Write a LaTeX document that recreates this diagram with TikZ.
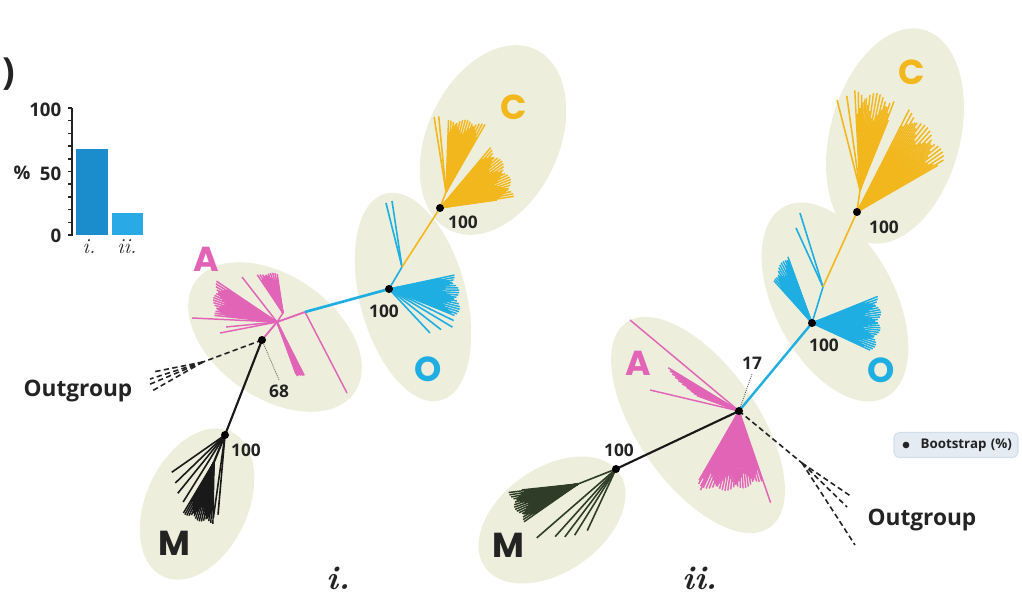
\documentclass[tikz,border=0pt]{standalone}
\usepackage{fontspec}
\newfontfamily\osans{Open Sans}
\newfontfamily\popf{Poppins}
\usetikzlibrary{calc}
\definecolor{ellfill}{RGB}{237,239,220}
\definecolor{pinkc}{RGB}{226,100,183}
\definecolor{cyanc}{RGB}{30,174,226}
\definecolor{goldc}{RGB}{243,183,30}
\definecolor{mgreen}{RGB}{46,60,40}
\definecolor{bari}{RGB}{27,141,204}
\definecolor{barii}{RGB}{41,170,230}
\definecolor{legfill}{RGB}{228,235,243}
\definecolor{legdraw}{RGB}{212,222,234}
\definecolor{txt}{RGB}{35,35,35}
\newcommand{\fanlines}[8]{%
  \foreach \fanang [count=\fanidx] in {#3,#4,...,#5}{%
    \pgfmathsetmacro\fanlen{#6+(#7-#6)*(\fanang-(#3))/((#5)-(#3))+#8*(abs(sin(\fanidx*83.7))-0.5)}%
    \draw[#1] (#2) -- ++(\fanang:\fanlen);}}
\begin{document}
\begin{tikzpicture}[x=0.75pt,y=-0.75pt,
  ell/.style={fill=ellfill},
  pk/.style={draw=pinkc,line width=1.1pt},
  pkf/.style={draw=pinkc,line width=1.1pt},
  cy/.style={draw=cyanc,line width=1.2pt},
  cyf/.style={draw=cyanc,line width=1.1pt},
  gd/.style={draw=goldc,line width=1.2pt},
  gdf/.style={draw=goldc,line width=1.1pt},
  bk/.style={draw=black!90,line width=1.2pt},
  bkf/.style={draw=black!90,line width=1.1pt},
  mg/.style={draw=mgreen,line width=1.2pt},
  mgf/.style={draw=mgreen,line width=1.1pt},
  og/.style={draw=txt,line width=1.2pt,dash pattern=on 4pt off 2.5pt},
  dotl/.style={draw=black!60,line width=0.6pt,dash pattern=on 0.8pt off 0.8pt},
  dotn/.style={circle,fill=black,inner sep=0pt,minimum size=6pt},
  boot/.style={text=txt,font=\osans\bfseries\fontsize{13}{13}\selectfont},
  clade/.style={font=\popf\bfseries\fontsize{26}{26}\selectfont},
  outg/.style={text=txt,font=\osans\bfseries\fontsize{17}{17}\selectfont},
  axl/.style={text=txt,font=\osans\bfseries\fontsize{14}{14}\selectfont},
  roman/.style={text=txt,font=\fontsize{25}{25}\selectfont\bfseries\itshape}]
\useasboundingbox (0,0) rectangle (1022,599);

% ---------- ellipses ----------
\fill[ell,rotate around={-35:(275,337)}] (275,337) ellipse [x radius=97,y radius=61];
\fill[ell,rotate around={-75:(413,297)}] (413,297) ellipse [x radius=107,y radius=53];
\fill[ell,rotate around={-115:(493,140)}] (493,140) ellipse [x radius=100,y radius=66];
\fill[ell,rotate around={-115:(197,504)}] (197,504) ellipse [x radius=80,y radius=51];
\fill[ell,rotate around={-55:(698,425)}] (698,425) ellipse [x radius=125,y radius=60];
\fill[ell,rotate around={-145:(552,520)}] (552,520) ellipse [x radius=82,y radius=52];
\fill[ell,rotate around={-62:(835,302)}] (835,302) ellipse [x radius=108,y radius=60];
\fill[ell,rotate around={-105:(895,136)}] (895,136) ellipse [x radius=110,y radius=65];

% ---------- bar chart ----------
\node[text=txt,font=\osans\bfseries\fontsize{28}{28}\selectfont] (paren) at (9,74) {)};
\fill[bari] (76,235) rectangle (108,149);
\fill[barii] (112,235) rectangle (143,213);
\draw[txt,line width=1.2pt] (72,108) -- (72,236);
\foreach \k in {0,...,10} \draw[txt,line width=1.1pt] (68,235-12.7*\k) -- (72,235-12.7*\k);
\node[axl,anchor=east] (t100) at (66,110) {100};
\node[axl,anchor=east] (t50) at (66,174) {50};
\node[axl,anchor=east] (t0) at (66,236) {0};
\node[axl] (pct) at (22,173) {\%};
\node[text=txt,font=\fontsize{16}{16}\selectfont\itshape] (bi) at (89,247) {i.};
\node[text=txt,font=\fontsize{16}{16}\selectfont\itshape] (bii) at (127,247) {ii.};

% ---------- tree i ----------
\coordinate (PJi) at (277,322);
\coordinate (PUi) at (283,313);
\coordinate (Ji) at (305,312);
\coordinate (Joi) at (402,267);
\coordinate (CUi) at (446,192);
\coordinate (OGi) at (203,362);
\coordinate (MWi) at (214,462);
\coordinate (Ai) at (262,340);
\coordinate (Mi) at (225,435);
\coordinate (Oi) at (389,289);
\coordinate (Ci) at (440,208);

% outgroup i
\draw[og] (Ai) -- (OGi);
\foreach \e in {(153,372),(150,379),(148,385),(152,391)} \draw[og] (OGi) -- \e;
% black stem
\draw[bk,line width=1.6pt] (Mi) -- (Ai);
% M i
\foreach \a/\l in {145/65,136/69,129/75,122/79,98/84,95/80} \draw[bk] (Mi) -- ++(\a:\l);
\draw[bk,line width=1.6pt] (Mi) -- (MWi);
\fanlines{bkf}{MWi}{91}{92}{121}{54}{52}{16}
% pink A i
\draw[pk,line width=1.4pt] (Ai) -- (PJi) -- (Ji);
\draw[pk] (Ji) -- (347,393);
\fanlines{pkf}{PJi}{186}{187}{214}{56}{66}{14}
\draw[pk] (PJi) -- (192,318);
\draw[pk] (PJi) -- (220,333);
\draw[pk] (PJi) -- (226,327);
\draw[pk] (PJi) -- (242,277);
\draw[pk] (PJi) -- (PUi);
\fanlines{pkf}{PUi}{236}{237.5}{262}{42}{36}{8}
\fanlines{pkf}{PJi}{63}{63.7}{70}{58}{56}{4}
% cyan O i
\draw[cy,line width=2pt] (Ji) -- (Oi);
\draw[cy] (Oi) -- (Joi);
\draw[cy] (Joi) -- (386,203);
\draw[cy] (Joi) -- (392,201);
\fanlines{cyf}{Oi}{-12}{-11}{22}{58}{66}{18}
\foreach \a/\l in {26/72,31/74,38/66,47/60} \draw[cy] (Oi) -- ++(\a:\l);
% gold C i
\draw[gd] (Joi) -- (Ci) -- (CUi);
\draw[gd] (CUi) -- ++(-99:76);
\draw[gd] (CUi) -- ++(-95.5:76);
\fanlines{gdf}{CUi}{-88}{-87}{-60}{64}{70}{16}
\fanlines{gdf}{Ci}{-50}{-49}{-8}{70}{66}{18}

% ---------- tree ii ----------
\coordinate (Aii) at (739,411);
\coordinate (Mii) at (616,469);
\coordinate (Oii) at (812,323);
\coordinate (Cii) at (857,212);
\coordinate (Joii) at (823,287);
\coordinate (CUii) at (860,190);
\coordinate (OGii) at (802,463);
\coordinate (MJii) at (578,484);

% outgroup ii
\draw[og] (Aii) -- (OGii);
\foreach \e in {(852,497),(847,507),(855,545)} \draw[og] (OGii) -- \e;
% black stem
\draw[bk,line width=1.6pt] (Aii) -- (Mii);
% M ii
\foreach \a/\l in {139/105,132/91,127/85,122/78,115/68} \draw[mg] (Mii) -- ++(\a:\l);
\draw[mg] (Mii) -- (MJii);
\fanlines{mgf}{MJii}{145}{146}{174}{58}{62}{16}
% pink A ii
\draw[pk] (Aii) -- (630,320);
\draw[pk] (Aii) -- (650,390);
\fanlines{pkf}{Aii}{200}{200.6}{212}{40}{82}{10}
\fanlines{pkf}{Aii}{72}{73}{120}{66}{78}{16}
\draw[pk] (Aii) -- ++(71:97);
\draw[pk] (Aii) -- ++(116:88);
% cyan O ii
\draw[cy,line width=1.8pt] (Aii) -- (Oii);
\draw[cy] (Oii) -- (Joii);
\draw[cy] (Joii) -- (800,213);
\draw[cy] (Joii) -- (796,228);
\fanlines{cyf}{Oii}{-22}{-21}{25}{62}{58}{18}
\fanlines{cyf}{Oii}{228}{229}{250}{50}{66}{14}
% gold C ii
\draw[gd] (Joii) -- (Cii) -- (CUii);
\draw[gd] (CUii) -- ++(-104.3:93);
\draw[gd] (CUii) -- ++(-98:95);
\fanlines{gdf}{CUii}{-93}{-92}{-68}{85}{82}{30}
\fanlines{gdf}{Cii}{-63}{-62}{-30}{104}{92}{22}

% ---------- dots ----------
\foreach \p in {Ai,Mi,Oi,Ci,Aii,Mii,Oii,Cii} \node[dotn] (d\p) at (\p) {};

% ---------- labels ----------
\node[boot] (l68) at (279,391) {68};
\draw[dotl] (dAi) -- (l68.north);
\node[boot] (lmi) at (246,450) {100};
\node[boot] (loi) at (384,311) {100};
\node[boot] (lci) at (463,222) {100};
\node[boot] (l17) at (752,363) {17};
\draw[dotl] (dAii) -- (l17.south);
\node[boot] (lmii) at (619,450) {100};
\node[boot] (loii) at (824,345) {100};
\node[boot] (lcii) at (884,227) {100};

\node[clade,text=pinkc] (cAi) at (206,259) {A};
\node[clade,text=goldc] (cCi) at (514,107) {C};
\node[clade,text=cyanc] (cOi) at (428,369) {O};
\node[clade,text=txt] (cMi) at (174,543) {M};
\node[clade,text=pinkc] (cAii) at (638,363) {A};
\node[clade,text=goldc] (cCii) at (912,72) {C};
\node[clade,text=cyanc] (cOii) at (881,370) {O};
\node[clade,text=txt] (cMii) at (508,545) {M};

\node[outg] (ogi) at (78,391) {Outgroup};
\node[outg] (ogii) at (922,520) {Outgroup};

\node[roman] (ri) at (338,578) {i.};
\node[roman] (rii) at (700,578) {ii.};

\node[draw=legdraw,fill=legfill,rounded corners=4pt,line width=0.8pt,
      minimum width=124pt*0.75,minimum height=25pt*0.75,inner sep=2pt,
      text=txt,font=\osans\bfseries\fontsize{10}{10}\selectfont,
      text width=84pt,align=right] (leg) at (956,445) {Bootstrap (\%)};
\node[circle,fill=txt,inner sep=0pt,minimum size=5pt] (legdot) at (906,445) {};
\end{tikzpicture}
\end{document}
